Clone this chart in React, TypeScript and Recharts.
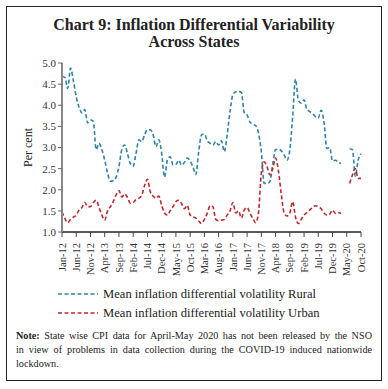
import React from 'react'
import { LineChart, Line, XAxis, YAxis } from 'recharts'

// months Jan-12 .. Oct-20
const MONTHS = ['Jan', 'Feb', 'Mar', 'Apr', 'May', 'Jun', 'Jul', 'Aug', 'Sep', 'Oct', 'Nov', 'Dec']
const YEARS = ['12', '13', '14', '15', '16', '17', '18', '19', '20']

// Apr-May 2020 not released -> null
const rural: (number | null)[] = [
    4.68, 4.66, 4.4, 4.88, 4.58, 4.2, 3.95, 3.82, 3.9, 3.58, 3.65, 3.62,
    2.95, 3.1, 2.95, 2.7, 2.4, 2.2, 2.22, 2.3, 2.55, 2.95, 3.06, 2.85,
    2.62, 2.56, 2.86, 3.18, 3.14, 3.3, 3.42, 3.42, 3.3, 3.02, 3.18, 2.86,
    2.3, 2.7, 2.78, 2.59, 2.6, 2.7, 2.58, 2.65, 2.75, 2.68, 2.54, 2.36,
    2.9, 3.3, 3.32, 3.16, 3.1, 3.06, 3.14, 3.06, 3.16, 2.9, 3.3, 3.85,
    4.25, 4.32, 4.33, 4.3, 3.82, 3.77, 3.6, 3.55, 3.52, 3.34, 2.9, 2.15,
    2.15, 2.19, 2.6, 2.95, 2.96, 2.92, 2.82, 2.7, 2.94, 3.73, 4.62, 4.12,
    4.05, 4.13, 3.9, 3.85, 3.8, 3.73, 3.7, 3.88, 3.6, 2.98, 3.0, 2.68,
    2.7, 2.65, 2.62, null, null, 2.97, 2.95, 2.32, 2.7, 2.85
]

const urban: (number | null)[] = [
    1.48, 1.32, 1.22, 1.3, 1.35, 1.4, 1.52, 1.58, 1.7, 1.6, 1.6, 1.7,
    1.75, 1.58, 1.4, 1.28, 1.5, 1.6, 1.72, 1.88, 1.98, 1.83, 1.9, 1.82,
    1.68, 1.7, 1.77, 1.8, 1.87, 2.1, 2.25, 1.95, 1.85, 1.8, 1.85, 1.63,
    1.45, 1.4, 1.5, 1.6, 1.72, 1.75, 1.67, 1.55, 1.63, 1.4, 1.36, 1.33,
    1.26, 1.2, 1.3, 1.44, 1.62, 1.6, 1.3, 1.27, 1.28, 1.3, 1.4, 1.5,
    1.7, 1.45, 1.5, 1.33, 1.52, 1.58, 1.45, 1.32, 1.22, 1.45, 2.4, 2.66,
    2.55, 2.35, 2.5, 2.75, 2.45, 1.9, 1.45, 1.38, 1.45, 1.72, 1.35, 1.2,
    1.3, 1.4, 1.46, 1.52, 1.58, 1.62, 1.6, 1.55, 1.45, 1.4, 1.42, 1.52,
    1.44, 1.46, 1.44, null, null, 2.15, 2.35, 2.5, 2.27, 2.27
]

const yTicks = [1.0, 1.5, 2.0, 2.5, 3.0, 3.5, 4.0, 4.5, 5.0]

const RURAL_NAME = 'Mean inflation differential volatility Rural'
const URBAN_NAME = 'Mean inflation differential volatility Urban'
const RURAL_COLOR = '#2f83a3'
const URBAN_COLOR = '#c0272d'

const labels: string[] = []
YEARS.forEach(yr => MONTHS.forEach(m => labels.push(m + '-' + yr)))

const data = rural.map((r, i) => ({ month: labels[i], rural: r, urban: urban[i] }))

const FONT = '"Liberation Serif", serif'

const XTick = (props: any) => {
    const { x, y, payload } = props
    const ty = y + 4
    return (
        <text x={x} y={ty} transform={`rotate(-90 ${x} ${ty})`} textAnchor="end" dy="0.35em"
            fontSize={10.5} fontFamily={FONT} fill="#333">
            {payload.value}
        </text>
    )
}

const LegendRow = ({ color, name, top }: { color: string, name: string, top: number }) => (
    <div style={{ position: 'absolute', left: 58, top, display: 'flex', alignItems: 'center', height: 14 }}>
        <svg width={42} height={6}>
            <line x1={0} y1={3} x2={40} y2={3} stroke={color} strokeWidth={1.6} strokeDasharray="4 2.5" />
        </svg>
        <span style={{ marginLeft: 3, fontSize: 12.6, fontFamily: FONT, color: '#222', whiteSpace: 'nowrap' }}>{name}</span>
    </div>
)

const noteLine = { fontSize: 10.2, fontFamily: FONT, color: '#222', lineHeight: '14px', textAlign: 'justify' as const,
    whiteSpace: 'normal' as const }

export default function App() {
    return (
        <div style={{ position: 'absolute', left: 0, top: 0, width: 388, height: 389, background: '#fff' }}>
            <div style={{ position: 'absolute', left: 6, top: 6, width: 374, height: 373, border: '1px solid #222' }} />
            <div style={{ position: 'absolute', left: 0, top: 16, width: 388, textAlign: 'center', fontFamily: FONT,
                fontWeight: 'bold', fontSize: 16, lineHeight: '17px', color: '#222' }}>
                Chart 9: Inflation Differential Variability<br />Across States
            </div>
            <div style={{ position: 'absolute', left: 0, top: 0 }}>
                <LineChart width={388} height={285} data={data} margin={{ top: 63, right: 27, left: 32, bottom: 8 }}>
                    <XAxis dataKey="month" interval={4} tick={<XTick />} height={45}
                        axisLine={{ stroke: '#222', strokeWidth: 1.5 }} tickLine={{ stroke: '#444' }} tickSize={5} />
                    <YAxis domain={[1, 5]} ticks={yTicks} width={30} tickFormatter={(v: number) => v.toFixed(1)}
                        axisLine={{ stroke: '#888', strokeWidth: 2 }} tickLine={{ stroke: '#666' }} tickSize={4}
                        tick={{ fontSize: 11, fontFamily: FONT, fill: '#333' }}
                        label={{ value: 'Per cent', angle: -90, position: 'insideLeft', offset: -4,
                            style: { fontSize: 12, fontFamily: FONT, fill: '#222', textAnchor: 'middle' } }} />
                    <Line type="monotone" dataKey="rural" name={RURAL_NAME} stroke={RURAL_COLOR} strokeWidth={1.6}
                        strokeDasharray="4 2.5" dot={false} isAnimationActive={false} connectNulls={false} />
                    <Line type="monotone" dataKey="urban" name={URBAN_NAME} stroke={URBAN_COLOR} strokeWidth={1.6}
                        strokeDasharray="4 2.5" dot={false} isAnimationActive={false} connectNulls={false} />
                </LineChart>
            </div>
            <LegendRow color={RURAL_COLOR} name={RURAL_NAME} top={287} />
            <LegendRow color={URBAN_COLOR} name={URBAN_NAME} top={306} />
            <div style={{ position: 'absolute', left: 16, top: 329, width: 356 }}>
                <div style={{ ...noteLine, textAlignLast: 'justify' }}>
                    <b>Note:</b> State wise CPI data for April-May 2020 has not been released by the NSO
                </div>
                <div style={{ ...noteLine, textAlignLast: 'justify' }}>
                    in view of problems in data collection during the COVID-19 induced nationwide
                </div>
                <div style={noteLine}>lockdown.</div>
            </div>
        </div>
    )
}
